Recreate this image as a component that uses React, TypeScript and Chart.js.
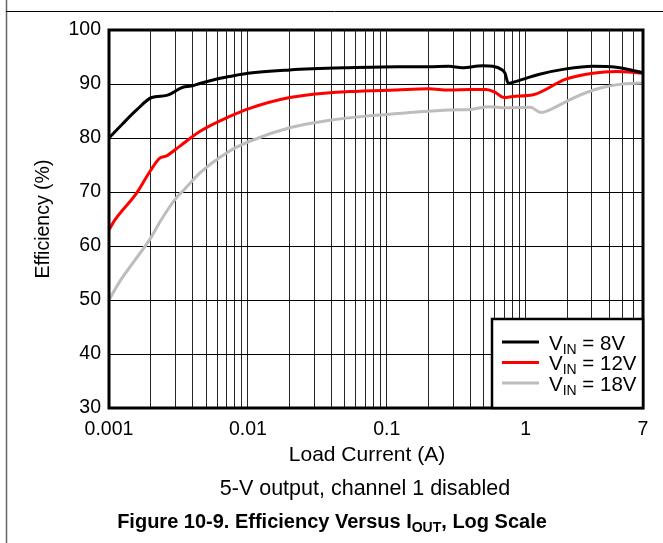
import React, { useEffect, useRef } from 'react';
import { Chart, registerables } from 'chart.js';

Chart.register(...registerables);

// ---- data ----
const current8V = [0.001, 0.00125, 0.00158, 0.00203, 0.0026, 0.0034, 0.0039, 0.0045, 0.0057, 0.0074, 0.01, 0.02, 0.05, 0.12, 0.2, 0.28, 0.35, 0.49, 0.58, 0.67, 0.71, 0.75, 0.83, 1.26, 1.95, 3.05, 4.5, 7];
const efficiency8V = [80, 82.6, 85.2, 87.5, 87.9, 89.4, 89.6, 90.1, 90.8, 91.4, 92.0, 92.6, 93.0, 93.2, 93.2, 93.3, 93.0, 93.4, 93.3, 92.7, 92.0, 90.1, 90.4, 91.8, 92.8, 93.3, 93.1, 92.1];

const current12V = [0.001, 0.0011, 0.00158, 0.00197, 0.0023, 0.0026, 0.00324, 0.0045, 0.0074, 0.0103, 0.02, 0.039, 0.054, 0.117, 0.2, 0.28, 0.4, 0.52, 0.6, 0.7, 0.81, 1.13, 1.95, 3.05, 4.5, 7];
const efficiency12V = [63, 64.8, 69.8, 73.8, 76.2, 76.7, 78.5, 81.2, 84.0, 85.5, 87.5, 88.4, 88.6, 88.9, 89.1, 88.9, 89.0, 89.0, 88.5, 87.5, 87.7, 88.0, 90.9, 92.0, 92.3, 92.0];

const current18V = [0.001, 0.0012, 0.0015, 0.002, 0.00233, 0.00307, 0.0035, 0.0045, 0.0074, 0.0103, 0.02, 0.039, 0.075, 0.146, 0.28, 0.4, 0.55, 0.72, 1.08, 1.29, 1.49, 2.2, 3.4, 5.0, 7];
const efficiency18V = [50, 53.5, 57.0, 61.5, 64.5, 69.0, 70.5, 73.5, 77.6, 79.4, 81.9, 83.3, 84.1, 84.7, 85.2, 85.3, 85.8, 85.6, 85.7, 84.7, 85.2, 87.4, 89.2, 90.0, 90.2];

const seriesVin = ['8V', '12V', '18V'];
const seriesColors = ['#000000', '#ff0000', '#bdbdbd'];

const xDecades = [0.001, 0.01, 0.1, 1];
const xMultipliers = [1, 2, 3, 4, 5, 6, 7, 8, 9];
const xTickLabels = [0.001, 0.01, 0.1, 1, 7];
const xMin = 0.001;
const xMax = 7;
const yMin = 30;
const yMax = 100;
const yStep = 10;

const xTitle = 'Load Current (A)';
const yTitle = 'Efficiency (%)';
const subtitleText = '5-V output, channel 1 disabled';
const captionMain = 'Figure 10-9. Efficiency Versus I';
const captionSub = 'OUT';
const captionTail = ', Log Scale';

const FONT = '"Liberation Sans", Arial, Helvetica, sans-serif';

function toPoints(xs: number[], ys: number[]) {
  return xs.map((x, i) => ({ x, y: ys[i] }));
}

const overlayPlugin = {
  id: 'overlay',
  afterDatasetsDraw(chart: any) {
    const ctx = chart.ctx as CanvasRenderingContext2D;
    const a = chart.chartArea;
    ctx.save();

    // page frame (left and top rules)
    ctx.strokeStyle = '#666';
    ctx.lineWidth = 1.5;
    ctx.beginPath();
    ctx.moveTo(6.5, 0);
    ctx.lineTo(6.5, chart.height);
    ctx.stroke();
    ctx.strokeStyle = '#000';
    ctx.lineWidth = 1;
    ctx.beginPath();
    ctx.moveTo(6, 11.5);
    ctx.lineTo(chart.width, 11.5);
    ctx.stroke();

    // plot border
    ctx.strokeStyle = '#000';
    ctx.lineWidth = 3;
    ctx.strokeRect(a.left, a.top, a.right - a.left, a.bottom - a.top);

    // legend box
    const lw = 151;
    const lh = 89;
    const lx = a.right - lw;
    const ly = a.bottom - lh;
    ctx.fillStyle = '#fff';
    ctx.fillRect(lx, ly, lw, lh);
    ctx.lineWidth = 2.5;
    ctx.strokeRect(lx, ly, lw, lh);
    const rowY = [ly + 23, ly + 43.5, ly + 64];
    chart.data.datasets.forEach((ds: any, i: number) => {
      const y = rowY[i];
      ctx.strokeStyle = ds.borderColor;
      ctx.lineWidth = 3;
      ctx.beginPath();
      ctx.moveTo(lx + 10, y);
      ctx.lineTo(lx + 47, y);
      ctx.stroke();
      ctx.fillStyle = '#000';
      ctx.textBaseline = 'alphabetic';
      ctx.textAlign = 'left';
      let tx = lx + 57;
      const base = y + 7.5;
      ctx.font = `20.5px ${FONT}`;
      ctx.fillText('V', tx, base);
      tx += ctx.measureText('V').width;
      ctx.font = `14px ${FONT}`;
      ctx.fillText('IN', tx, base + 4);
      tx += ctx.measureText('IN').width;
      ctx.font = `20.5px ${FONT}`;
      ctx.fillText(' = ' + seriesVin[i], tx, base);
    });

    // axis titles
    ctx.fillStyle = '#000';
    ctx.textAlign = 'center';
    ctx.textBaseline = 'alphabetic';
    ctx.font = `21px ${FONT}`;
    ctx.fillText(xTitle, 367, 461);
    ctx.font = `21.5px ${FONT}`;
    ctx.fillText(subtitleText, 365, 495);

    ctx.font = `19.5px ${FONT}`;
    ctx.save();
    ctx.translate(49, (a.top + a.bottom) / 2);
    ctx.rotate(-Math.PI / 2);
    ctx.fillText(yTitle, 0, 0);
    ctx.restore();

    // caption with subscript
    ctx.font = `bold 20px ${FONT}`;
    const w1 = ctx.measureText(captionMain).width;
    const w3 = ctx.measureText(captionTail).width;
    ctx.font = `bold 14px ${FONT}`;
    const w2 = ctx.measureText(captionSub).width;
    const total = w1 + w2 + w3;
    let tx = 332 - total / 2;
    ctx.textAlign = 'left';
    ctx.font = `bold 20px ${FONT}`;
    ctx.fillText(captionMain, tx, 528);
    tx += w1;
    ctx.font = `bold 14px ${FONT}`;
    ctx.fillText(captionSub, tx, 532);
    tx += w2;
    ctx.font = `bold 20px ${FONT}`;
    ctx.fillText(captionTail, tx, 528);

    ctx.restore();
  },
};

export default function App() {
  const canvasRef = useRef<HTMLCanvasElement | null>(null);

  useEffect(() => {
    const canvas = canvasRef.current;
    if (!canvas) return;
    const gridTicks: number[] = [];
    xDecades.forEach((d) => xMultipliers.forEach((m) => {
      const v = parseFloat((d * m).toPrecision(6));
      if (v <= xMax) gridTicks.push(v);
    }));

    const chart = new Chart(canvas, {
      type: 'line',
      data: {
        datasets: [
          { label: 'VIN = 8V', data: toPoints(current8V, efficiency8V), borderColor: seriesColors[0] },
          { label: 'VIN = 12V', data: toPoints(current12V, efficiency12V), borderColor: seriesColors[1] },
          { label: 'VIN = 18V', data: toPoints(current18V, efficiency18V), borderColor: seriesColors[2] },
        ].map((d) => ({ ...d, borderWidth: 3, pointRadius: 0, fill: false, cubicInterpolationMode: 'monotone' as const })),
      },
      options: {
        responsive: false,
        animation: false,
        devicePixelRatio: 1,
        layout: { padding: { top: 30, right: 20, left: 0, bottom: 0 } },
        plugins: { legend: { display: false }, tooltip: { enabled: false }, title: { display: false } },
        scales: {
          x: {
            type: 'logarithmic',
            min: xMin,
            max: xMax,
            afterBuildTicks: (scale: any) => {
              scale.ticks = gridTicks.map((v) => ({ value: v }));
            },
            afterFit: (scale: any) => { scale.height = 135; },
            ticks: {
              autoSkip: false,
              maxRotation: 0,
              minRotation: 0,
              padding: 10,
              color: '#000',
              font: { family: FONT, size: 19.5 },
              callback: (value: any) => {
                const v = Number(value);
                const hit = xTickLabels.find((t) => Math.abs(t - v) / t < 1e-6);
                return hit !== undefined ? String(hit) : '';
              },
            },
            grid: { color: '#262626', lineWidth: 1, drawTicks: false },
            border: { display: false },
          },
          y: {
            type: 'linear',
            min: yMin,
            max: yMax,
            afterFit: (scale: any) => { scale.width = 109; },
            ticks: {
              stepSize: yStep,
              padding: 8,
              color: '#000',
              font: { family: FONT, size: 19.5 },
            },
            grid: { color: '#000', lineWidth: 1, drawTicks: false },
            border: { display: false },
          },
        },
      },
      plugins: [overlayPlugin],
    });
    return () => chart.destroy();
  }, []);

  return (
    <div style={{ position: 'fixed', left: 0, top: 0, width: 663, height: 543, background: '#fff' }}>
      <canvas ref={canvasRef} width={663} height={543} style={{ display: 'block', width: 663, height: 543 }} />
    </div>
  );
}
